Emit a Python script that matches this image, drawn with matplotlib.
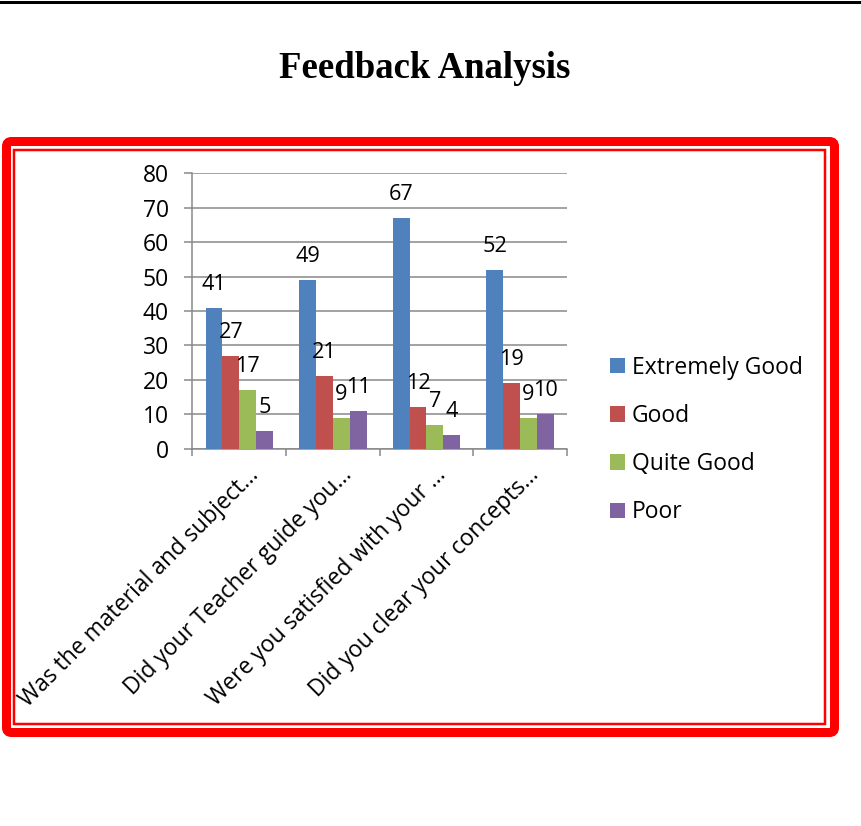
import matplotlib
matplotlib.use("Agg")
import matplotlib.pyplot as plt
import matplotlib.transforms as mtransforms
from matplotlib.patches import FancyBboxPatch, Rectangle
from matplotlib.lines import Line2D
import numpy as np

# ---------------- data ----------------
categories = [
    "Was the material and subject...",
    "Did your Teacher guide you...",
    "Were you satisfied with your ...",
    "Did you clear your concepts...",
]
series_names = ["Extremely Good", "Good", "Quite Good", "Poor"]
extremely_good = [41, 49, 67, 52]
good = [27, 21, 12, 19]
quite_good = [17, 9, 7, 9]
poor = [5, 11, 4, 10]
y_ticks = [0, 10, 20, 30, 40, 50, 60, 70, 80]
title_text = "Feedback Analysis"

# ---------------- style ----------------
colors = ["#4F81BD", "#C0504D", "#9BBB59", "#8064A2"]
grid_color = "#878787"
W, H, DPI = 862, 826, 100
PT = 72.0 / DPI  # points per pixel

plt.rcParams["font.family"] = ["Open Sans", "DejaVu Sans"]
FS = 16.5
FS_LBL = 15.6

fig = plt.figure(figsize=(W / DPI, H / DPI), dpi=DPI)
fig.patch.set_facecolor("white")

# axes placement (pixels from top-left)
ax_l, ax_r, ax_t, ax_b = 192.5, 566.7, 173.3, 448.7
ax = fig.add_axes([ax_l / W, 1 - ax_b / H, (ax_r - ax_l) / W, (ax_b - ax_t) / H])

series = [extremely_good, good, quite_good, poor]
n_cat = len(categories)
x = np.arange(n_cat)
bw = 0.18
for j, (name, vals) in enumerate(zip(series_names, series)):
    bars = ax.bar(x + (j - 1.5) * bw, vals, width=bw, color=colors[j],
                  label=name, zorder=3, linewidth=0)
    for b, v in zip(bars, vals):
        ax.annotate(str(v), xy=(b.get_x() + b.get_width() / 2, b.get_height()),
                    xytext=(0, 18), textcoords="offset pixels",
                    ha="center", va="baseline", fontsize=FS_LBL, color="black",
                    zorder=5)

ax.set_xlim(-0.5, n_cat - 0.5)
ax.set_ylim(y_ticks[0], y_ticks[-1])
ax.set_yticks(y_ticks)
ax.set_yticklabels([str(t) for t in y_ticks], fontsize=FS)
ax.yaxis.grid(True, color=grid_color, linewidth=1.5 * PT, zorder=0)
ax.set_axisbelow(True)

for s in ["top", "right"]:
    ax.spines[s].set_visible(False)
for s in ["left", "bottom"]:
    ax.spines[s].set_color(grid_color)
    ax.spines[s].set_linewidth(1.5 * PT)

ax.tick_params(axis="y", direction="out", length=8.5 * PT, width=1.5 * PT,
               color=grid_color, pad=15 * PT, labelcolor="black")

# x: labels at category centers, visible ticks at boundaries
ax.set_xticks(x)
ax.set_xticks(np.arange(n_cat + 1) - 0.5, minor=True)
ax.set_xticklabels(categories, fontsize=FS, rotation=45, ha="right",
                   va="center", rotation_mode="anchor")
ax.tick_params(axis="x", which="major", length=0, pad=23 * PT)
ax.tick_params(axis="x", which="minor", direction="out", length=7 * PT,
               width=1.5 * PT, color=grid_color)
offset = mtransforms.ScaledTranslation(16 / DPI, 0, fig.dpi_scale_trans)
for lbl in ax.get_xticklabels():
    lbl.set_transform(lbl.get_transform() + offset)

# legend
leg = ax.legend(loc="center left",
                bbox_to_anchor=(610 / W, 1 - 440 / H),
                bbox_transform=fig.transFigure, frameon=False,
                fontsize=FS, handlelength=0.66, handleheight=0.66,
                handletextpad=0.3, labelspacing=1.06, borderpad=0,
                borderaxespad=0)

# ---------------- decorations (pixel coords from top-left) ----------------
def rect_in(x0, y0, x1, y1):
    return (x0 / DPI, (H - y1) / DPI, (x1 - x0) / DPI, (y1 - y0) / DPI)

tr = fig.dpi_scale_trans
rx, ry, rw, rh = rect_in(6.5, 141.5, 834.5, 732.5)
outer = FancyBboxPatch((rx, ry), rw, rh,
                       boxstyle="round,pad=0,rounding_size=0.05",
                       transform=tr, fill=False, edgecolor="#FF0000",
                       linewidth=9 * PT)
fig.add_artist(outer)
ix, iy, iw, ih = rect_in(14.5, 150, 824.5, 724)
inner = Rectangle((ix, iy), iw, ih, transform=tr, fill=False,
                  edgecolor="#FF0000", linewidth=2.5 * PT)
fig.add_artist(inner)

topline = Line2D([0, W / DPI], [(H - 1.5) / DPI, (H - 1.5) / DPI],
                 transform=tr, color="black", linewidth=3 * PT)
fig.add_artist(topline)

fig.text(424.5 / W, 1 - 78 / H, title_text, ha="center", va="baseline",
         fontsize=26.5, fontweight="bold", family=["Liberation Serif"])

fig.savefig("out.png", dpi=DPI, facecolor="white")
